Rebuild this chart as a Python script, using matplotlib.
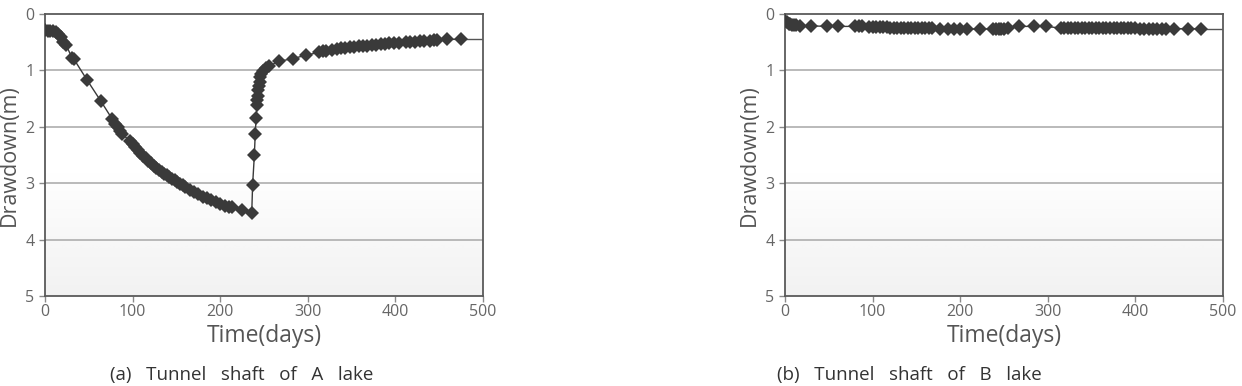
import numpy as np
import matplotlib
matplotlib.use("Agg")
import matplotlib.pyplot as plt

# (a) Tunnel shaft of A lake
time_a = [0, 3, 6, 9, 12, 15, 18, 21, 24, 31, 33, 48, 64, 77, 80, 83, 86, 88,
          97, 100, 103, 106, 109, 112, 115, 118, 121, 124, 127, 130, 133, 136,
          139, 142, 145, 148, 151, 154, 157, 160, 165, 170, 175, 180, 185, 190,
          195, 200, 205, 210, 213, 225, 236,
          237, 239, 240, 241, 242, 242.5, 243, 243.5, 244, 245, 246, 247, 249,
          252, 256, 267, 283, 298, 313, 317, 321, 328, 333, 338, 343, 348, 353,
          358, 363, 368, 373, 378, 383, 388, 393, 398, 404, 412, 417, 422, 428,
          433, 440, 444, 448, 459, 475]
draw_a = [0.28, 0.30, 0.31, 0.31, 0.32, 0.35, 0.40, 0.50, 0.55, 0.78, 0.80, 1.17, 1.55, 1.87, 1.95, 2.00, 2.08, 2.12,
          2.26, 2.31, 2.36, 2.41, 2.46, 2.51, 2.56, 2.61, 2.65, 2.69, 2.73, 2.77, 2.80, 2.83,
          2.86, 2.89, 2.92, 2.95, 2.98, 3.01, 3.04, 3.07, 3.12, 3.16, 3.20, 3.24, 3.27, 3.30,
          3.33, 3.37, 3.40, 3.42, 3.43, 3.48, 3.53,
          3.03, 2.50, 2.12, 1.85, 1.62, 1.52, 1.45, 1.35, 1.27, 1.20, 1.12, 1.06, 1.01,
          0.96, 0.92, 0.84, 0.79, 0.73, 0.68, 0.66, 0.65, 0.64, 0.62, 0.61, 0.60, 0.59, 0.58,
          0.57, 0.57, 0.56, 0.55, 0.55, 0.54, 0.53, 0.52, 0.52, 0.51, 0.50, 0.49, 0.49, 0.48,
          0.48, 0.47, 0.46, 0.46, 0.45, 0.45]

# (b) Tunnel shaft of B lake
time_b = [0, 2, 4, 6, 8, 10, 13, 17, 30, 48, 61, 80, 84, 88, 96, 100, 104, 108,
          112, 116, 120, 124, 128, 132, 136, 140, 144, 148, 152, 156, 160, 164,
          168, 177, 186, 193, 200, 208, 223, 238, 241, 244, 247, 250, 254, 267,
          284, 298, 315, 319, 323, 327, 331, 335, 339, 343, 347, 351, 355, 359,
          363, 367, 371, 375, 379, 383, 387, 391, 395, 400, 405, 410, 415, 420,
          425, 430, 435, 444, 460, 475]
draw_b = [0.13, 0.15, 0.17, 0.18, 0.19, 0.20, 0.20, 0.21, 0.21, 0.22, 0.22, 0.22, 0.22, 0.22, 0.23, 0.23, 0.23, 0.23,
          0.23, 0.23, 0.24, 0.24, 0.24, 0.24, 0.24, 0.24, 0.24, 0.24, 0.24, 0.25, 0.25, 0.25,
          0.25, 0.26, 0.26, 0.26, 0.27, 0.27, 0.26, 0.27, 0.27, 0.27, 0.26, 0.26, 0.25, 0.22,
          0.22, 0.22, 0.25, 0.25, 0.25, 0.25, 0.25, 0.25, 0.25, 0.25, 0.25, 0.25, 0.25, 0.25,
          0.25, 0.25, 0.25, 0.25, 0.25, 0.25, 0.25, 0.25, 0.25, 0.25, 0.26, 0.26, 0.26, 0.26,
          0.26, 0.26, 0.26, 0.26, 0.26, 0.26]

panels = [
    (time_a, draw_a, "(a)   Tunnel   shaft   of   A   lake", 45, 242),
    (time_b, draw_b, "(b)   Tunnel   shaft   of   B   lake", 785, 909),
]

W, H = 1242, 386
fig = plt.figure(figsize=(W / 100, H / 100), dpi=100)
plt.rcParams['font.family'] = ['Open Sans', 'DejaVu Sans']

text_col = '#555555'
grad = np.linspace(0, 1, 256)
grad = np.clip((grad - 0.55) / 0.45, 0, 1)[:, None]

for t, d, caption, left_px, cap_x in panels:
    ax = fig.add_axes([left_px / W, 1 - 296 / H, 438 / W, 282 / H])
    # white to light gray background
    ax.imshow(grad, extent=[0, 500, 5, 0], aspect='auto', cmap='Greys',
              vmin=0, vmax=9, zorder=0, interpolation='bilinear')
    ax.set_xlim(0, 500)
    ax.set_ylim(5, 0)
    ax.set_yticks([0, 1, 2, 3, 4, 5])
    ax.set_xticks([0, 100, 200, 300, 400, 500])
    for yv in [1, 2, 3, 4]:
        ax.axhline(yv, color='#b4b4b4', lw=1.3, zorder=1)
    ax.plot(t, d, color='#3a3a3a', lw=1.0, marker='D', markersize=7.5,
            markeredgewidth=0, zorder=3)
    ax.hlines(d[-1], t[-1], 500, color='#555555', lw=1.0, zorder=2)
    for s in ax.spines.values():
        s.set_color('#5a5a5a')
        s.set_linewidth(1.3)
    ax.tick_params(axis='both', colors='#8a8a8a', labelcolor='#666666',
                   labelsize=11.5, length=4, width=1)
    ax.tick_params(axis='x', pad=2)
    ax.set_xlabel('Time(days)', fontsize=16.5, color=text_col, labelpad=3)
    ax.set_ylabel('Drawdown(m)', fontsize=15.5, color=text_col, labelpad=4)
    fig.text(cap_x / W, 1 - 375 / H, caption, fontsize=13.5, color='#333333',
             ha='center', va='center')

fig.savefig('out.png', dpi=100)
